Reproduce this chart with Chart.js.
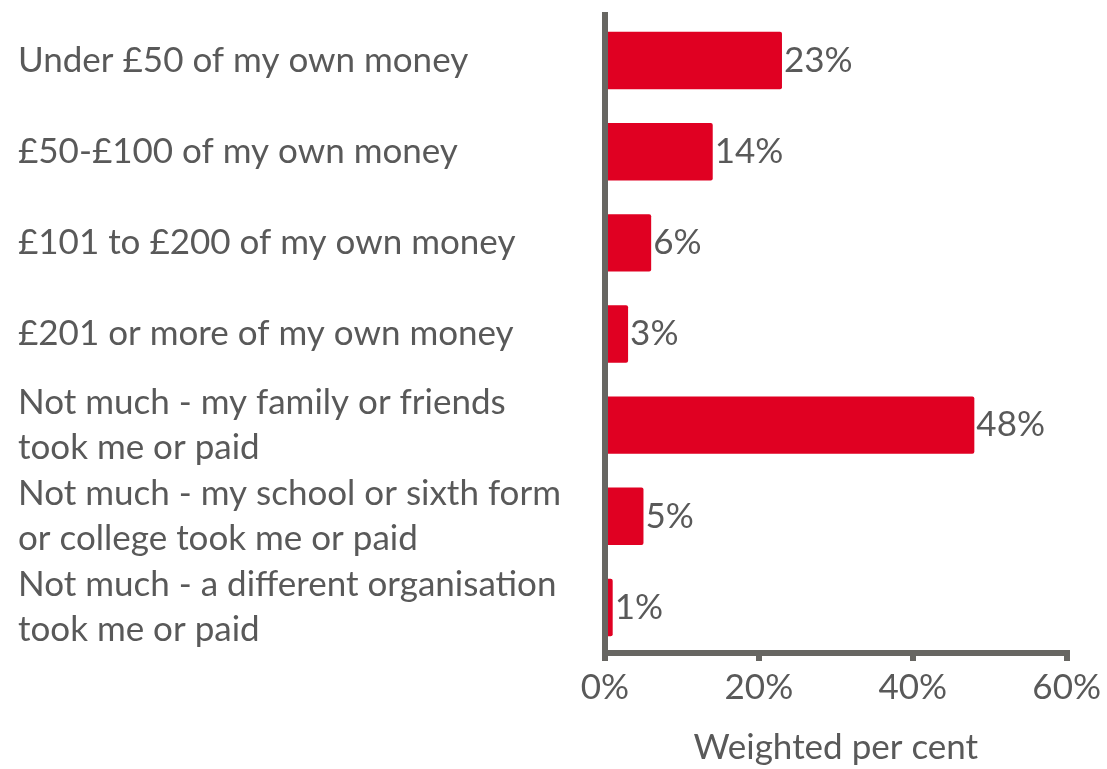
<!DOCTYPE html>
<html>
<head>
<meta charset="utf-8">
<script src="https://cdn.jsdelivr.net/npm/chart.js@4.4.1/dist/chart.umd.min.js"></script>
<style>
html,body{margin:0;padding:0;background:#fff}
#wrap{width:1107px;height:769px}
</style>
</head>
<body>
<div id="wrap"><canvas id="spendChart"></canvas></div>
<script>
// spend categories (wrapped lines) and weighted share in per cent
const categories=[
"Under £50 of my own money",
"£50-£100 of my own money",
"£101 to £200 of my own money",
"£201 or more of my own money",
["Not much - my family or friends","took me or paid"],
["Not much - my school or sixth form","or college took me or paid"],
["Not much - a different organisation","took me or paid"]
]
const shares=[23,14,6,3,48,5,1]
const xTicks=[0,20,40,60]

const grey="#595959"
const axisGrey="#676662"
const red="#e00022"
const fontFamily="Lato, 'Open Sans', sans-serif"
const fontSize=35

// value labels at the end of each bar
const barLabels={
id:"barLabels",
afterDatasetsDraw(chart){
const c=chart.ctx
const meta=chart.getDatasetMeta(0)
c.save()
c.font=fontSize+"px "+fontFamily
c.fillStyle=grey
c.textAlign="left"
c.textBaseline="middle"
meta.data.forEach((bar,i)=>{
c.fillText(shares[i]+"%",bar.x+2,bar.y)
})
c.restore()
}
}

new Chart(document.getElementById("spendChart"),{
type:"bar",
data:{
labels:categories,
datasets:[{
data:shares,
backgroundColor:red,
borderRadius:2,
borderSkipped:"start",
categoryPercentage:1,
barPercentage:0.63
}]
},
options:{
indexAxis:"y",
responsive:true,
maintainAspectRatio:false,
animation:false,
layout:{padding:{left:18,right:40,top:15,bottom:0}},
plugins:{
legend:{display:false},
tooltip:{enabled:false}
},
scales:{
y:{
grid:{display:false},
border:{display:true,color:axisGrey,width:6},
ticks:{
color:grey,
autoSkip:false,
crossAlign:"far",
padding:10,
font:{family:fontFamily,size:fontSize,lineHeight:1.28}
},
afterFit(scale){
scale.width=587
scale.paddingTop=0
scale.paddingBottom=0
}
},
x:{
min:0,
max:60,
afterBuildTicks(scale){scale.ticks=xTicks.map(v=>({value:v}))},
grid:{drawOnChartArea:false,drawTicks:true,tickLength:8,color:axisGrey,lineWidth:6},
border:{display:true,color:axisGrey,width:6},
ticks:{
color:grey,
padding:6,
maxRotation:0,
font:{family:fontFamily,size:fontSize},
callback:v=>v+"%"
},
title:{
display:true,
text:"Weighted per cent",
color:grey,
padding:{top:12,bottom:0},
font:{family:fontFamily,size:fontSize}
}
}
}
},
plugins:[barLabels]
})
</script>
</body>
</html>
